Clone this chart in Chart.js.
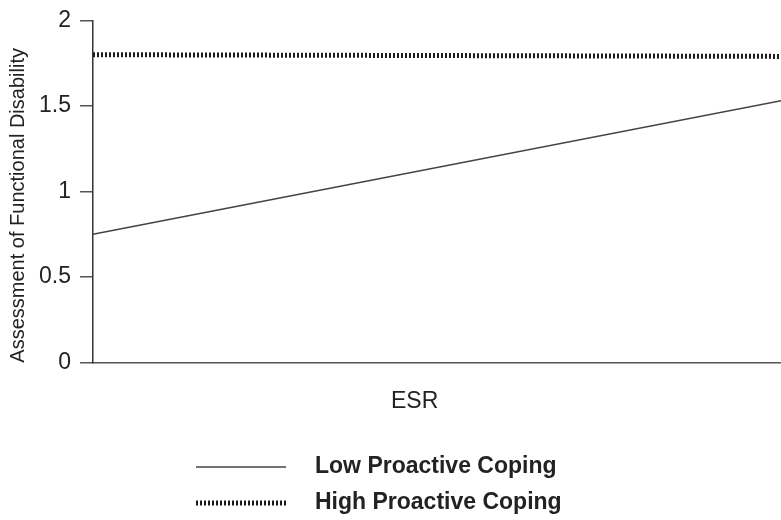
<!DOCTYPE html>
<html lang="en">
<head>
  <meta charset="UTF-8" />
  <title>Assessment of Functional Disability by ESR</title>
  <script src="https://cdn.jsdelivr.net/npm/chart.js"></script>
  <style>
    html, body { margin: 0; padding: 0; background: #fff; }
    #wrap { width: 781px; height: 520px; }
  </style>
</head>
<body>
  <div id="wrap"><canvas id="chart"></canvas></div>

  <script>
    // data
    const esrLevels = ['Low ESR', 'High ESR'];
    const lowCoping = [0.75, 1.53];
    const highCoping = [1.80, 1.79];
    const yTicks = [0, 0.5, 1, 1.5, 2];

    const FONT = "'Liberation Sans', Arial, sans-serif";
    const INK = '#222';

    // legend drawn as two stacked rows under the axis title
    const stackedLegend = {
      id: 'stackedLegend',
      afterDraw(chart) {
        const ctx = chart.ctx;
        const rows = [467, 503];
        ctx.save();
        chart.data.datasets.forEach((ds, i) => {
          const y = rows[i];
          ctx.beginPath();
          ctx.setLineDash(ds.borderDash || []);
          ctx.lineWidth = ds.borderWidth;
          ctx.strokeStyle = ds.borderColor;
          ctx.moveTo(196, y);
          ctx.lineTo(286, y);
          ctx.stroke();
          ctx.setLineDash([]);
          ctx.fillStyle = INK;
          ctx.font = 'bold 23px ' + FONT;
          ctx.textBaseline = 'middle';
          ctx.fillText(ds.label, 315, y);
        });
        ctx.restore();
      }
    };

    new Chart(document.getElementById('chart'), {
      type: 'line',
      data: {
        labels: esrLevels,
        datasets: [
          {
            label: 'Low Proactive Coping',
            data: lowCoping,
            borderColor: '#444',
            borderWidth: 1.5,
            pointRadius: 0,
            tension: 0
          },
          {
            label: 'High Proactive Coping',
            data: highCoping,
            borderColor: '#1a1a1a',
            borderWidth: 5,
            borderDash: [2, 2],
            pointRadius: 0,
            tension: 0
          }
        ]
      },
      options: {
        responsive: true,
        maintainAspectRatio: false,
        animation: false,
        layout: { padding: { top: 6, right: 0, bottom: 105, left: 1 } },
        plugins: {
          legend: { display: false },
          tooltip: { enabled: false }
        },
        scales: {
          x: {
            offset: false,
            grid: { display: false },
            border: { display: true, color: '#555', width: 1.5 },
            ticks: { display: false },
            title: {
              display: true,
              text: 'ESR       ',
              color: INK,
              font: { family: FONT, size: 23 },
              padding: { top: 17, bottom: 0 }
            }
          },
          y: {
            min: 0,
            max: 2,
            afterBuildTicks(axis) {
              axis.ticks = yTicks.map(v => ({ value: v }));
            },
            grid: {
              drawOnChartArea: false,
              drawTicks: true,
              tickLength: 13,
              color: '#555',
              lineWidth: 1.5
            },
            border: { display: true, color: '#333', width: 1.5 },
            ticks: {
              color: INK,
              padding: 9,
              font: { family: FONT, size: 23, lineHeight: 1 },
              callback: v => String(v)
            },
            title: {
              display: true,
              text: 'Assessment of Functional Disability     ',
              color: INK,
              font: { family: FONT, size: 20 },
              padding: { top: 5, bottom: 0 }
            }
          }
        }
      },
      plugins: [stackedLegend]
    });
  </script>
</body>
</html>
